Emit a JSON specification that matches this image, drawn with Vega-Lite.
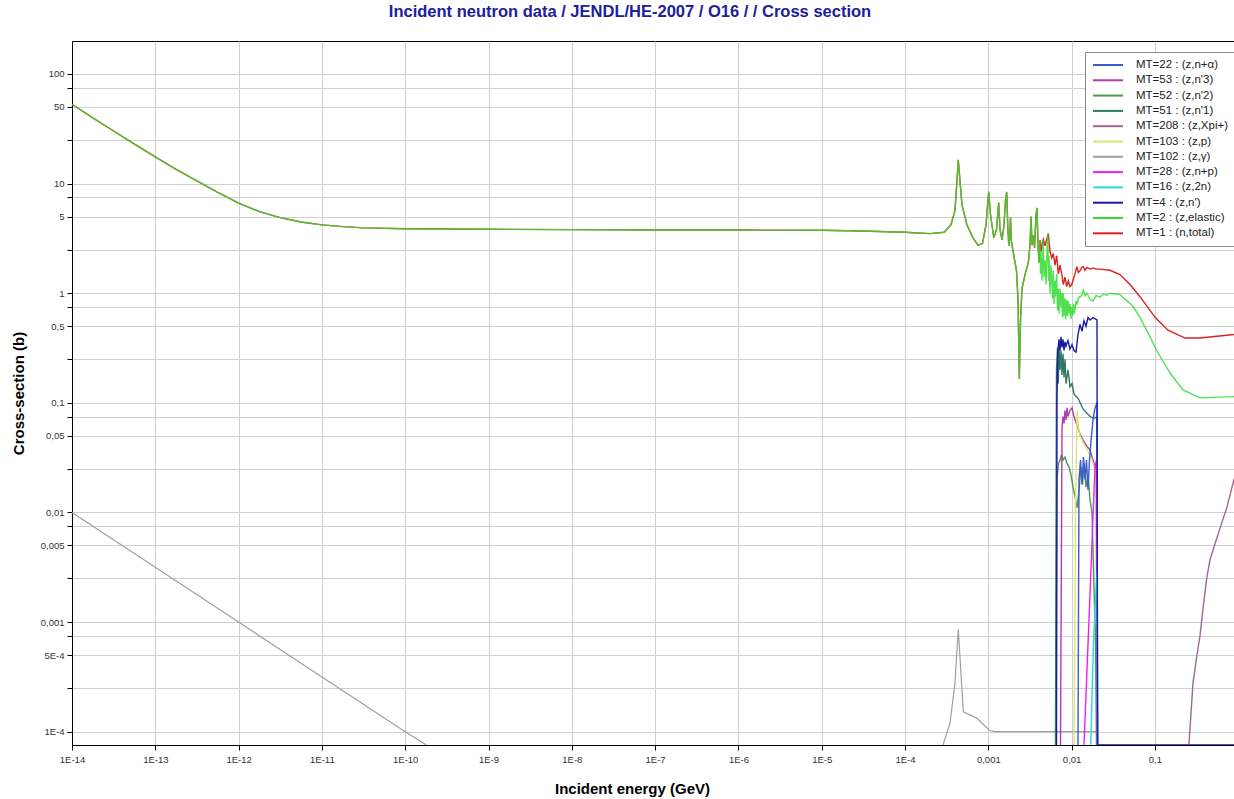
{
"$schema":"https://vega.github.io/schema/vega-lite/v6.json",
"autosize":"none",
"width":1162,"height":704,
"padding":{"left":72,"top":41,"right":0,"bottom":54},
"background":"white",
"title":{"text":"Incident neutron data / JENDL/HE-2007 / O16 / / Cross section","anchor":"middle","dx":-23,"offset":21,"fontSize":16.5,"fontWeight":"bold","color":"#20209a","font":"Liberation Sans"},
"config":{"view":{"stroke":"black","strokeWidth":1},"font":"Liberation Sans","axis":{"labelFont":"Liberation Sans","labelFontSize":9.5,"labelColor":"#333333","titleFont":"Liberation Sans","gridColor":"#cfcfcf","gridWidth":1,"tickColor":"black","domainColor":"black","tickSize":5}},
"data":{"values":[
{"m":"102","g":1,"e":1e-14,"s":0.01},{"m":"102","g":1,"e":1e-13,"s":0.00316},{"m":"102","g":1,"e":1e-12,"s":0.001},{"m":"102","g":1,"e":1e-11,"s":0.000316},{"m":"102","g":1,"e":1e-10,"s":0.0001},{"m":"102","g":1,"e":1.8e-10,"s":7.45e-5},
{"m":"102","g":2,"e":2.86e-4,"s":7.5e-5},{"m":"102","g":2,"e":3.47e-4,"s":1.2e-4},{"m":"102","g":2,"e":3.98e-4,"s":2.77e-4},{"m":"102","g":2,"e":4.36e-4,"s":8.6e-4},{"m":"102","g":2,"e":5.01e-4,"s":1.52e-4},{"m":"102","g":2,"e":7.26e-4,"s":1.33e-4},{"m":"102","g":2,"e":1.03e-3,"s":1.03e-4},{"m":"102","g":2,"e":1.2e-3,"s":1e-4},{"m":"102","g":2,"e":2.04e-2,"s":1e-4},{"m":"102","g":2,"e":2.06e-2,"s":1e-6},
{"m":"208","e":0.256,"s":7.6e-5},{"m":"208","e":0.2867,"s":2.8e-4},{"m":"208","e":0.3176,"s":4.8e-4},{"m":"208","e":0.3478,"s":7.5e-4},{"m":"208","e":0.381,"s":1.4e-3},{"m":"208","e":0.4184,"s":2.5e-3},{"m":"208","e":0.4586,"s":3.7e-3},{"m":"208","e":0.552,"s":5.8e-3},{"m":"208","e":0.7276,"s":1.1e-2},{"m":"208","e":0.89,"s":2.0e-2},{"m":"208","e":1.0,"s":0.025},
{"m":"1","e":1e-14,"s":53},{"m":"1","e":1.778e-14,"s":39.8},{"m":"1","e":3.162e-14,"s":30.2},{"m":"1","e":5.623e-14,"s":22.9},{"m":"1","e":1e-13,"s":17.5},{"m":"1","e":1.778e-13,"s":13.5},{"m":"1","e":3.162e-13,"s":10.6},{"m":"1","e":5.623e-13,"s":8.32},{"m":"1","e":1e-12,"s":6.65},{"m":"1","e":1.778e-12,"s":5.56},{"m":"1","e":3.162e-12,"s":4.9},{"m":"1","e":5.623e-12,"s":4.47},{"m":"1","e":1e-11,"s":4.2},{"m":"1","e":1.778e-11,"s":4.05},{"m":"1","e":3.162e-11,"s":3.95},{"m":"1","e":1e-10,"s":3.87},{"m":"1","e":1e-9,"s":3.83},{"m":"1","e":1e-8,"s":3.8},{"m":"1","e":1e-7,"s":3.78},{"m":"1","e":1e-6,"s":3.77},{"m":"1","e":1e-5,"s":3.75},{"m":"1","e":3e-5,"s":3.7},{"m":"1","e":1e-4,"s":3.6},{"m":"1","e":2e-4,"s":3.5},
{"m":"1","e":2.94e-4,"s":3.6},{"m":"1","e":3.56e-4,"s":4.2},{"m":"1","e":3.98e-4,"s":5.7},{"m":"1","e":4.21e-4,"s":10.8},{"m":"1","e":4.36e-4,"s":16.5},{"m":"1","e":4.51e-4,"s":12},{"m":"1","e":4.83e-4,"s":6.4},{"m":"1","e":5.55e-4,"s":4.2},{"m":"1","e":6.55e-4,"s":3.2},{"m":"1","e":7.52e-4,"s":2.75},{"m":"1","e":8.51e-4,"s":2.85},{"m":"1","e":9.38e-4,"s":4.2},{"m":"1","e":1.01e-3,"s":8.4},{"m":"1","e":1.063e-3,"s":5.2},{"m":"1","e":1.164e-3,"s":3.2},{"m":"1","e":1.254e-3,"s":3.8},{"m":"1","e":1.333e-3,"s":6.7},{"m":"1","e":1.382e-3,"s":3.8},{"m":"1","e":1.46e-3,"s":3.06},{"m":"1","e":1.543e-3,"s":4.2},{"m":"1","e":1.609e-3,"s":7.1},{"m":"1","e":1.663e-3,"s":8.4},{"m":"1","e":1.714e-3,"s":4.0},{"m":"1","e":1.762e-3,"s":2.7},{"m":"1","e":1.812e-3,"s":3.4},{"m":"1","e":1.847e-3,"s":4.9},{"m":"1","e":1.889e-3,"s":3.0},{"m":"1","e":2.024e-3,"s":2.2},{"m":"1","e":2.18e-3,"s":1.6},{"m":"1","e":2.273e-3,"s":0.87},{"m":"1","e":2.356e-3,"s":0.165},{"m":"1","e":2.435e-3,"s":0.57},{"m":"1","e":2.538e-3,"s":1.1},{"m":"1","e":2.758e-3,"s":1.48},{"m":"1","e":3.021e-3,"s":1.9},{"m":"1","e":3.168e-3,"s":2.75},{"m":"1","e":3.257e-3,"s":5.0},{"m":"1","e":3.348e-3,"s":2.75},{"m":"1","e":3.47e-3,"s":3.4},{"m":"1","e":3.587e-3,"s":2.6},{"m":"1","e":3.739e-3,"s":5.2},{"m":"1","e":3.844e-3,"s":6.0},{"m":"1","e":3.951e-3,"s":2.75},{"m":"1","e":4.062e-3,"s":1.9},
{"m":"1","e":4.176e-3,"s":3.06},{"m":"1","e":4.293e-3,"s":2.4},{"m":"1","e":4.413e-3,"s":2.8},{"m":"1","e":4.574e-3,"s":3.1},{"m":"1","e":4.794e-3,"s":2.7},{"m":"1","e":5.067e-3,"s":3.2},{"m":"1","e":5.25e-3,"s":3.5},{"m":"1","e":5.503e-3,"s":2.4},{"m":"1","e":5.768e-3,"s":2.1},{"m":"1","e":6.028e-3,"s":2.3},{"m":"1","e":6.318e-3,"s":1.8},{"m":"1","e":6.622e-3,"s":2.2},{"m":"1","e":6.921e-3,"s":1.5},{"m":"1","e":7.256e-3,"s":1.8},{"m":"1","e":7.605e-3,"s":1.5},{"m":"1","e":7.948e-3,"s":1.2},{"m":"1","e":8.331e-3,"s":1.4},{"m":"1","e":8.731e-3,"s":1.15},{"m":"1","e":9.125e-3,"s":1.3},{"m":"1","e":9.568e-3,"s":1.15},{"m":"1","e":1.0028e-2,"s":1.2},{"m":"1","e":1.0539e-2,"s":1.35},{"m":"1","e":1.0985e-2,"s":1.5},{"m":"1","e":1.1513e-2,"s":1.75},{"m":"1","e":1.2033e-2,"s":1.55},{"m":"1","e":1.261e-2,"s":1.6},{"m":"1","e":1.3217e-2,"s":1.72},{"m":"1","e":1.3813e-2,"s":1.75},{"m":"1","e":1.4478e-2,"s":1.62},{"m":"1","e":1.53e-2,"s":1.72},{"m":"1","e":1.663e-2,"s":1.66},{"m":"1","e":1.8067e-2,"s":1.7},{"m":"1","e":1.963e-2,"s":1.66},{"m":"1","e":2.193e-2,"s":1.66},{"m":"1","e":2.891e-2,"s":1.62},{"m":"1","e":3.81e-2,"s":1.48},{"m":"1","e":5.024e-2,"s":1.2},{"m":"1","e":6.62e-2,"s":0.93},{"m":"1","e":0.1011,"s":0.6},{"m":"1","e":0.1436,"s":0.46},{"m":"1","e":0.2298,"s":0.39},{"m":"1","e":0.3478,"s":0.39},{"m":"1","e":0.89,"s":0.42},{"m":"1","e":1.0,"s":0.425},
{"m":"2","e":1e-14,"s":53},{"m":"2","e":1.778e-14,"s":39.8},{"m":"2","e":3.162e-14,"s":30.2},{"m":"2","e":5.623e-14,"s":22.9},{"m":"2","e":1e-13,"s":17.5},{"m":"2","e":1.778e-13,"s":13.5},{"m":"2","e":3.162e-13,"s":10.6},{"m":"2","e":5.623e-13,"s":8.32},{"m":"2","e":1e-12,"s":6.65},{"m":"2","e":1.778e-12,"s":5.56},{"m":"2","e":3.162e-12,"s":4.9},{"m":"2","e":5.623e-12,"s":4.47},{"m":"2","e":1e-11,"s":4.2},{"m":"2","e":1.778e-11,"s":4.05},{"m":"2","e":3.162e-11,"s":3.95},{"m":"2","e":1e-10,"s":3.87},{"m":"2","e":1e-9,"s":3.83},{"m":"2","e":1e-8,"s":3.8},{"m":"2","e":1e-7,"s":3.78},{"m":"2","e":1e-6,"s":3.77},{"m":"2","e":1e-5,"s":3.75},{"m":"2","e":3e-5,"s":3.7},{"m":"2","e":1e-4,"s":3.6},{"m":"2","e":2e-4,"s":3.5},
{"m":"2","e":2.94e-4,"s":3.6},{"m":"2","e":3.56e-4,"s":4.2},{"m":"2","e":3.98e-4,"s":5.7},{"m":"2","e":4.21e-4,"s":10.8},{"m":"2","e":4.36e-4,"s":16.5},{"m":"2","e":4.51e-4,"s":12},{"m":"2","e":4.83e-4,"s":6.4},{"m":"2","e":5.55e-4,"s":4.2},{"m":"2","e":6.55e-4,"s":3.2},{"m":"2","e":7.52e-4,"s":2.75},{"m":"2","e":8.51e-4,"s":2.85},{"m":"2","e":9.38e-4,"s":4.2},{"m":"2","e":1.01e-3,"s":8.4},{"m":"2","e":1.063e-3,"s":5.2},{"m":"2","e":1.164e-3,"s":3.2},{"m":"2","e":1.254e-3,"s":3.8},{"m":"2","e":1.333e-3,"s":6.7},{"m":"2","e":1.382e-3,"s":3.8},{"m":"2","e":1.46e-3,"s":3.06},{"m":"2","e":1.543e-3,"s":4.2},{"m":"2","e":1.609e-3,"s":7.1},{"m":"2","e":1.663e-3,"s":8.4},{"m":"2","e":1.714e-3,"s":4.0},{"m":"2","e":1.762e-3,"s":2.7},{"m":"2","e":1.812e-3,"s":3.4},{"m":"2","e":1.847e-3,"s":4.9},{"m":"2","e":1.889e-3,"s":3.0},{"m":"2","e":2.024e-3,"s":2.2},{"m":"2","e":2.18e-3,"s":1.6},{"m":"2","e":2.273e-3,"s":0.87},{"m":"2","e":2.356e-3,"s":0.165},{"m":"2","e":2.435e-3,"s":0.57},{"m":"2","e":2.538e-3,"s":1.1},{"m":"2","e":2.758e-3,"s":1.48},{"m":"2","e":3.021e-3,"s":1.9},{"m":"2","e":3.168e-3,"s":2.75},{"m":"2","e":3.257e-3,"s":5.0},{"m":"2","e":3.348e-3,"s":2.75},{"m":"2","e":3.47e-3,"s":3.4},{"m":"2","e":3.587e-3,"s":2.6},{"m":"2","e":3.739e-3,"s":5.2},{"m":"2","e":3.844e-3,"s":6.0},{"m":"2","e":3.951e-3,"s":2.75},{"m":"2","e":4.062e-3,"s":1.9},
{"m":"2","e":4.176e-3,"s":3.06},{"m":"2","e":4.234e-3,"s":1.5},{"m":"2","e":4.293e-3,"s":2.4},{"m":"2","e":4.413e-3,"s":1.3},{"m":"2","e":4.574e-3,"s":3.06},{"m":"2","e":4.664e-3,"s":1.4},{"m":"2","e":4.794e-3,"s":2.0},{"m":"2","e":4.929e-3,"s":1.2},{"m":"2","e":5.067e-3,"s":2.6},{"m":"2","e":5.166e-3,"s":3.5},{"m":"2","e":5.281e-3,"s":1.3},{"m":"2","e":5.354e-3,"s":2.2},{"m":"2","e":5.503e-3,"s":1.0},{"m":"2","e":5.657e-3,"s":1.8},{"m":"2","e":5.768e-3,"s":1.4},{"m":"2","e":5.896e-3,"s":0.9},{"m":"2","e":6.028e-3,"s":1.6},{"m":"2","e":6.146e-3,"s":0.8},{"m":"2","e":6.318e-3,"s":1.3},{"m":"2","e":6.406e-3,"s":0.93},{"m":"2","e":6.622e-3,"s":1.5},{"m":"2","e":6.769e-3,"s":0.7},{"m":"2","e":6.921e-3,"s":1.1},{"m":"2","e":7.056e-3,"s":0.65},{"m":"2","e":7.256e-3,"s":1.1},{"m":"2","e":7.459e-3,"s":0.75},{"m":"2","e":7.605e-3,"s":1.0},{"m":"2","e":7.775e-3,"s":0.6},{"m":"2","e":7.948e-3,"s":1.0},{"m":"2","e":8.103e-3,"s":0.62},{"m":"2","e":8.331e-3,"s":0.9},{"m":"2","e":8.493e-3,"s":0.58},{"m":"2","e":8.731e-3,"s":0.87},{"m":"2","e":8.926e-3,"s":0.62},{"m":"2","e":9.125e-3,"s":0.85},{"m":"2","e":9.304e-3,"s":0.65},{"m":"2","e":9.568e-3,"s":0.8},{"m":"2","e":9.836e-3,"s":0.58},{"m":"2","e":1.0028e-2,"s":0.75},{"m":"2","e":1.0252e-2,"s":0.62},{"m":"2","e":1.0539e-2,"s":0.8},{"m":"2","e":1.0745e-2,"s":0.65},{"m":"2","e":1.0985e-2,"s":0.72},{"m":"2","e":1.1292e-2,"s":0.85},{"m":"2","e":1.1609e-2,"s":0.8},{"m":"2","e":1.2033e-2,"s":0.9},{"m":"2","e":1.261e-2,"s":0.93},{"m":"2","e":1.3217e-2,"s":0.95},{"m":"2","e":1.3813e-2,"s":1.07},{"m":"2","e":1.4478e-2,"s":0.95},{"m":"2","e":1.53e-2,"s":1.0},{"m":"2","e":1.663e-2,"s":0.88},{"m":"2","e":1.8067e-2,"s":0.85},{"m":"2","e":1.963e-2,"s":0.95},{"m":"2","e":2.193e-2,"s":0.92},{"m":"2","e":2.382e-2,"s":0.98},{"m":"2","e":2.639e-2,"s":0.96},{"m":"2","e":2.891e-2,"s":1.0},{"m":"2","e":3.81e-2,"s":0.97},{"m":"2","e":5.456e-2,"s":0.76},{"m":"2","e":6.62e-2,"s":0.6},{"m":"2","e":7.965e-2,"s":0.46},{"m":"2","e":0.1051,"s":0.3},{"m":"2","e":0.1518,"s":0.187},{"m":"2","e":0.2175,"s":0.131},{"m":"2","e":0.3478,"s":0.111},{"m":"2","e":0.89,"s":0.114},{"m":"2","e":1.0,"s":0.114},
{"m":"51","e":6.406e-3,"s":1e-6},{"m":"51","e":6.585e-3,"s":0.2},{"m":"51","e":6.769e-3,"s":0.32},{"m":"51","e":6.921e-3,"s":0.15},{"m":"51","e":7.056e-3,"s":0.33},{"m":"51","e":7.256e-3,"s":0.2},{"m":"51","e":7.459e-3,"s":0.3},{"m":"51","e":7.668e-3,"s":0.18},{"m":"51","e":7.883e-3,"s":0.28},{"m":"51","e":8.103e-3,"s":0.17},{"m":"51","e":8.331e-3,"s":0.25},{"m":"51","e":8.564e-3,"s":0.15},{"m":"51","e":9.05e-3,"s":0.2},{"m":"51","e":9.568e-3,"s":0.14},{"m":"51","e":1.0111e-2,"s":0.15},{"m":"51","e":1.0686e-2,"s":0.12},{"m":"51","e":1.1934e-2,"s":0.11},{"m":"51","e":1.3699e-2,"s":0.088},{"m":"51","e":1.663e-2,"s":0.075},{"m":"51","e":1.8572e-2,"s":0.072},{"m":"51","e":2.0177e-2,"s":0.075},{"m":"51","e":2.0458e-2,"s":1e-6},
{"m":"52","e":6.495e-3,"s":1e-6},{"m":"52","e":6.677e-3,"s":0.02},{"m":"52","e":6.959e-3,"s":0.028},{"m":"52","e":7.256e-3,"s":0.03},{"m":"52","e":7.605e-3,"s":0.034},{"m":"52","e":7.883e-3,"s":0.03},{"m":"52","e":8.331e-3,"s":0.032},{"m":"52","e":8.804e-3,"s":0.028},{"m":"52","e":9.304e-3,"s":0.026},{"m":"52","e":9.836e-3,"s":0.022},{"m":"52","e":1.0395e-2,"s":0.017},{"m":"52","e":1.0985e-2,"s":0.014},{"m":"52","e":1.1609e-2,"s":0.011},{"m":"52","e":1.2268e-2,"s":0.016},{"m":"52","e":1.2963e-2,"s":0.026},{"m":"52","e":1.3512e-2,"s":0.018},{"m":"52","e":1.4083e-2,"s":0.028},{"m":"52","e":1.4882e-2,"s":0.017},{"m":"52","e":1.5729e-2,"s":0.022},{"m":"52","e":1.663e-2,"s":0.013},{"m":"52","e":1.7575e-2,"s":0.01},{"m":"52","e":1.8572e-2,"s":0.002},{"m":"52","e":1.9359e-2,"s":7e-4},{"m":"52","e":1.99e-2,"s":1e-6},
{"m":"53","e":7.357e-3,"s":1e-6},{"m":"53","e":7.668e-3,"s":0.06},{"m":"53","e":7.883e-3,"s":0.075},{"m":"53","e":8.103e-3,"s":0.065},{"m":"53","e":8.331e-3,"s":0.085},{"m":"53","e":8.564e-3,"s":0.07},{"m":"53","e":8.804e-3,"s":0.09},{"m":"53","e":9.05e-3,"s":0.075},{"m":"53","e":9.568e-3,"s":0.085},{"m":"53","e":1.0111e-2,"s":0.09},{"m":"53","e":1.0686e-2,"s":0.075},{"m":"53","e":1.1609e-2,"s":0.062},{"m":"53","e":1.261e-2,"s":0.052},{"m":"53","e":1.3699e-2,"s":0.046},{"m":"53","e":1.53e-2,"s":0.04},{"m":"53","e":1.663e-2,"s":0.037},{"m":"53","e":1.8067e-2,"s":0.03},{"m":"53","e":1.963e-2,"s":0.025},{"m":"53","e":2.0458e-2,"s":1e-6},
{"m":"103","e":1.0686e-2,"s":1e-6},{"m":"103","e":1.1138e-2,"s":0.01},{"m":"103","e":1.1609e-2,"s":0.085},{"m":"103","e":1.21e-2,"s":0.06},{"m":"103","e":1.261e-2,"s":0.05},{"m":"103","e":1.4083e-2,"s":0.042},{"m":"103","e":1.5729e-2,"s":0.036},{"m":"103","e":1.7575e-2,"s":0.03},{"m":"103","e":1.963e-2,"s":0.022},{"m":"103","e":2.0458e-2,"s":1e-6},
{"m":"22","e":1.1934e-2,"s":1e-6},{"m":"22","e":1.2268e-2,"s":0.02},{"m":"22","e":1.2785e-2,"s":0.03},{"m":"22","e":1.3326e-2,"s":0.018},{"m":"22","e":1.389e-2,"s":0.032},{"m":"22","e":1.4478e-2,"s":0.02},{"m":"22","e":1.509e-2,"s":0.03},{"m":"22","e":1.5729e-2,"s":0.016},{"m":"22","e":1.639e-2,"s":0.03},{"m":"22","e":1.7096e-2,"s":0.045},{"m":"22","e":1.8067e-2,"s":0.07},{"m":"22","e":1.9093e-2,"s":0.09},{"m":"22","e":2.0177e-2,"s":0.1},{"m":"22","e":2.0458e-2,"s":1e-6},
{"m":"28","e":1.4083e-2,"s":1e-6},{"m":"28","e":1.53e-2,"s":3.7e-4},{"m":"28","e":1.663e-2,"s":1.8e-3},{"m":"28","e":1.8067e-2,"s":9.2e-3},{"m":"28","e":1.9093e-2,"s":0.026},{"m":"28","e":1.99e-2,"s":0.03},{"m":"28","e":2.0458e-2,"s":1e-6},
{"m":"16","e":1.6954e-2,"s":1e-6},{"m":"16","e":1.8318e-2,"s":6.5e-4},{"m":"16","e":1.99e-2,"s":2.5e-3},{"m":"16","e":2.0345e-2,"s":3e-3},{"m":"16","e":2.0517e-2,"s":1e-6},
{"m":"4","e":6.585e-3,"s":1e-6},{"m":"4","e":6.677e-3,"s":0.12},{"m":"4","e":6.864e-3,"s":0.3},{"m":"4","e":7.056e-3,"s":0.38},{"m":"4","e":7.256e-3,"s":0.3},{"m":"4","e":7.459e-3,"s":0.4},{"m":"4","e":7.668e-3,"s":0.32},{"m":"4","e":7.883e-3,"s":0.38},{"m":"4","e":8.103e-3,"s":0.3},{"m":"4","e":8.331e-3,"s":0.36},{"m":"4","e":8.564e-3,"s":0.33},{"m":"4","e":9.05e-3,"s":0.37},{"m":"4","e":9.568e-3,"s":0.31},{"m":"4","e":1.0111e-2,"s":0.34},{"m":"4","e":1.0686e-2,"s":0.3},{"m":"4","e":1.1292e-2,"s":0.29},{"m":"4","e":1.1934e-2,"s":0.42},{"m":"4","e":1.261e-2,"s":0.52},{"m":"4","e":1.3326e-2,"s":0.45},{"m":"4","e":1.4083e-2,"s":0.56},{"m":"4","e":1.4882e-2,"s":0.5},{"m":"4","e":1.5729e-2,"s":0.6},{"m":"4","e":1.663e-2,"s":0.57},{"m":"4","e":1.8067e-2,"s":0.6},{"m":"4","e":2.0177e-2,"s":0.57},{"m":"4","e":2.0458e-2,"s":1e-6},{"m":"4","e":1.0,"s":1e-6}
]},
"mark":{"type":"line","clip":true,"interpolate":"linear"},
"encoding":{
"x":{"field":"e","type":"quantitative","scale":{"type":"log","domain":[1e-14,0.89],"nice":false},
 "axis":{"values":[1e-14,1e-13,1e-12,1e-11,1e-10,1e-9,1e-8,1e-7,1e-6,1e-5,1e-4,0.001,0.01,0.1],"labelExpr":"datum.value >= 0.001 ? replace(toString(datum.value), '.', ',') : '1E' + round(log(datum.value)/LN10)","labelFlush":false,"labelOverlap":false,"labelPadding":4,"grid":true,"title":"Incident energy (GeV)","titleX":560,"titleY":43,"titleBaseline":"middle","titleAlign":"center","titleFontSize":15,"titleFontWeight":"bold","titleColor":"black"}},
"y":{"field":"s","type":"quantitative","scale":{"type":"log","domain":[7.56e-5,200],"nice":false,"clamp":true},
 "axis":{"values":[1e-4,2.5e-4,5e-4,7.5e-4,0.001,0.0025,0.005,0.0075,0.01,0.025,0.05,0.075,0.1,0.25,0.5,0.75,1,2.5,5,7.5,10,25,50,75,100],"labelExpr":"datum.value===100?'100':datum.value===50?'50':datum.value===10?'10':datum.value===5?'5':datum.value===1?'1':datum.value===0.5?'0,5':datum.value===0.1?'0,1':datum.value===0.05?'0,05':datum.value===0.01?'0,01':datum.value===0.005?'0,005':datum.value===0.001?'0,001':datum.value===0.0005?'5E-4':datum.value===0.0001?'1E-4':''","labelOverlap":false,"labelPadding":3,"grid":true,"title":"Cross-section (b)","titleX":-54,"titleY":352,"titleAngle":-90,"titleAlign":"center","titleBaseline":"middle","titleFontSize":15,"titleFontWeight":"bold","titleColor":"black"}},
"color":{"field":"m","type":"nominal",
 "scale":{"domain":["22","53","52","51","208","103","102","28","16","4","2","1"],"range":["#3a5ccc","#b03cb0","#4a9a4a","#2e7a5e","#a06890","#dde870","#a0a0a0","#ee22ee","#22dcdc","#1a1aa6","#33dd33","#dd2222"]},
 "legend":{"orient":"none","legendX":1013,"legendY":11,"title":null,"padding":7,"rowPadding":3.3,"symbolType":"M-1,0H5","symbolSize":100,"symbolStrokeWidth":2,"labelOffset":32,"labelFontSize":11.5,"labelFont":"Liberation Sans","labelColor":"#222222","strokeColor":"#888888","fillColor":"white","labelLimit":200,
 "labelExpr":"datum.label==='22'?'MT=22 : (z,n+α)':datum.label==='53'?\"MT=53 : (z,n'3)\":datum.label==='52'?\"MT=52 : (z,n'2)\":datum.label==='51'?\"MT=51 : (z,n'1)\":datum.label==='208'?'MT=208 : (z,Xpi+)':datum.label==='103'?'MT=103 : (z,p)':datum.label==='102'?'MT=102 : (z,γ)':datum.label==='28'?'MT=28 : (z,n+p)':datum.label==='16'?'MT=16 : (z,2n)':datum.label==='4'?\"MT=4 : (z,n')\":datum.label==='2'?'MT=2 : (z,elastic)':'MT=1 : (n,total)'"}},
"detail":{"field":"g","type":"nominal"},
"opacity":{"condition":{"test":"datum.m==='2'","value":0.85},"value":1},
"strokeWidth":{"condition":{"test":"datum.m==='102'","value":1.2},"value":1.4}
}
}
